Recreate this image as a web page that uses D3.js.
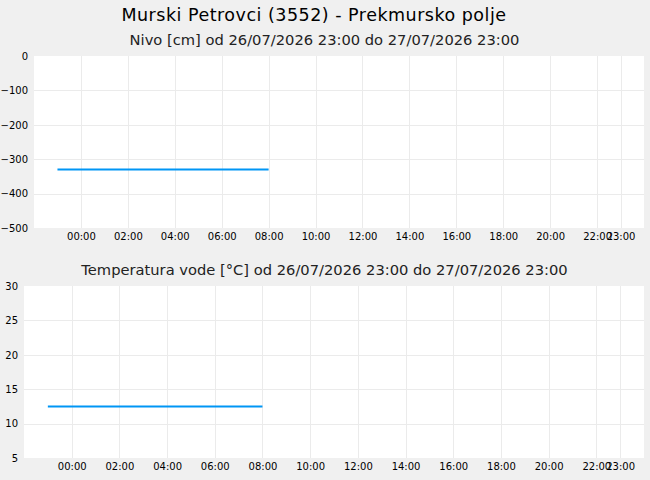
<!DOCTYPE html>
<html><head><meta charset="utf-8">
<script src="https://cdn.jsdelivr.net/npm/d3@7"></script>
<style>body{margin:0;background:#f0f0f0;}svg{display:block;}</style>
</head><body>
<svg id="c" width="650" height="480"></svg>
<script>
const title = "Murski Petrovci (3552) - Prekmursko polje";
const nivoTitle = "Nivo [cm] od 26/07/2026 23:00 do 27/07/2026 23:00";
const tempTitle = "Temperatura vode [°C] od 26/07/2026 23:00 do 27/07/2026 23:00";
const times = ["2026-07-26T23:00","2026-07-27T00:00","2026-07-27T01:00","2026-07-27T02:00","2026-07-27T03:00","2026-07-27T04:00","2026-07-27T05:00","2026-07-27T06:00","2026-07-27T07:00","2026-07-27T08:00"];
const nivoValues = [-330,-330,-330,-330,-330,-330,-330,-330,-330,-330];
const tempValues = [12.5,12.5,12.5,12.5,12.5,12.5,12.5,12.5,12.5,12.5];
const xDomain = ["2026-07-26T22:00","2026-07-28T00:00"];
const xTicks = ["2026-07-27T00:00","2026-07-27T02:00","2026-07-27T04:00","2026-07-27T06:00","2026-07-27T08:00","2026-07-27T10:00","2026-07-27T12:00","2026-07-27T14:00","2026-07-27T16:00","2026-07-27T18:00","2026-07-27T20:00","2026-07-27T22:00","2026-07-27T23:00"];
const nivoDomain = [-500, 0];
const nivoTicks = [0,-100,-200,-300,-400,-500];
const tempDomain = [5, 30];
const tempTicks = [30,25,20,15,10,5];

const parse = d3.timeParse("%Y-%m-%dT%H:%M");
const fmt = d3.timeFormat("%H:%M");
const svg = d3.select("#c");
const FONT = "DejaVu Sans, sans-serif";
const GRID = "#ebebeb";
const LINE = "#0096f5";

svg.append("text").attr("x",314).attr("y",20.5).attr("text-anchor","middle")
  .attr("font-family",FONT).attr("font-size",17.5).attr("letter-spacing",0.5)
  .attr("fill","#000").text(title);

function panel(cfg){
  const x = d3.scaleTime().domain(xDomain.map(parse)).range([cfg.left, cfg.right]);
  const y = d3.scaleLinear().domain(cfg.domain).range([cfg.bottom, cfg.top]);
  svg.append("text").attr("x",324.5).attr("y",cfg.titleY).attr("text-anchor","middle")
    .attr("font-family",FONT).attr("font-size",14.7).attr("fill","#222").text(cfg.title);
  svg.append("rect").attr("x",cfg.left).attr("y",cfg.top).attr("width",cfg.right-cfg.left)
    .attr("height",cfg.bottom-cfg.top).attr("fill","#fff");
  const g = svg.append("g");
  g.selectAll(".vg").data(xTicks.map(parse)).join("line")
    .attr("x1",d=>Math.round(x(d))+0.5).attr("x2",d=>Math.round(x(d))+0.5)
    .attr("y1",cfg.top).attr("y2",cfg.bottom).attr("stroke",GRID).attr("stroke-width",1);
  g.selectAll(".hg").data(cfg.ticks.filter(t=>t!==cfg.domain[0]&&t!==cfg.domain[1])).join("line")
    .attr("x1",cfg.left).attr("x2",cfg.right)
    .attr("y1",d=>Math.round(y(d))+0.5).attr("y2",d=>Math.round(y(d))+0.5)
    .attr("stroke",GRID).attr("stroke-width",1);
  const ya = d3.axisLeft(y).tickValues(cfg.ticks).tickSize(0).tickPadding(6);
  const yg = svg.append("g").attr("transform",`translate(${cfg.left},0)`).call(ya);
  yg.select(".domain").remove();
  yg.selectAll("text").attr("font-family",FONT).attr("font-size",10).attr("fill","#000");
  const xa = d3.axisBottom(x).tickValues(xTicks.map(parse)).tickFormat(fmt).tickSize(0).tickPadding(cfg.xPad);
  const xg = svg.append("g").attr("transform",`translate(0,${cfg.bottom})`).call(xa);
  xg.select(".domain").remove();
  xg.selectAll("text").attr("font-family",FONT).attr("font-size",10).attr("fill","#000");
  const line = d3.line().x((d,i)=>x(parse(times[i]))).y(d=>y(d));
  svg.append("path").datum(cfg.values).attr("d",line).attr("fill","none")
    .attr("stroke",LINE).attr("stroke-width",2);
}

panel({left:34,right:644,top:56,bottom:228,domain:nivoDomain,ticks:nivoTicks,values:nivoValues,title:nivoTitle,titleY:45,xPad:5});
panel({left:24,right:644,top:286,bottom:458,domain:tempDomain,ticks:tempTicks,values:tempValues,title:tempTitle,titleY:275,xPad:5});
</script>
</body></html>
